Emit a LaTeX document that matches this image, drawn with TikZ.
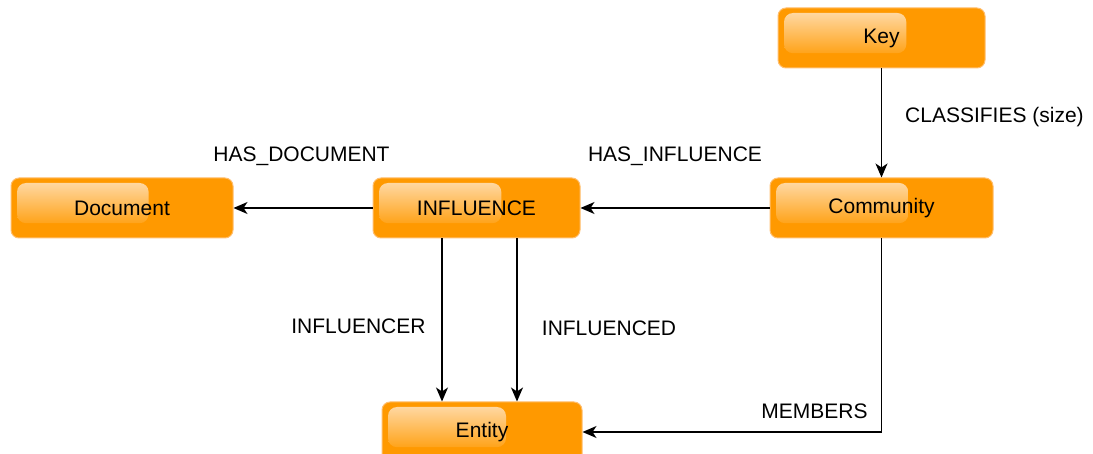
\documentclass[tikz,border=0pt]{standalone}
\usepackage{fontspec}
\setmainfont{Liberation Sans}
\usetikzlibrary{arrows.meta,calc}
\definecolor{boxorange}{RGB}{255,153,0}
\definecolor{boxedge}{RGB}{255,190,110}
\definecolor{glosstop}{RGB}{255,215,160}
\tikzset{
  entitybox/.style={
    rounded corners=8, fill=boxorange, draw=boxedge, line width=1,
    minimum height=60, inner sep=0, font=\fontsize{21}{25}\selectfont,
    path picture={
      \path (path picture bounding box.north west) coordinate (nw)
            (path picture bounding box.south east) coordinate (se);
      \shade[top color=glosstop, bottom color=boxorange!90!white, rounded corners=9]
        ($(nw)+(6,5)$) rectangle ($(nw)!0.62!(se)+(0,8)$);
    }},
  rel/.style={line width=1.3, -{Stealth[length=14,width=12,inset=4]}},
  lbl/.style={font=\fontsize{21}{25}\selectfont, inner sep=0}
}
\newcommand{\boxtext}[1]{\raisebox{-2pt}{#1}}
\begin{document}
\begin{tikzpicture}[x=1pt,y=-1pt]
  \useasboundingbox (0,0) rectangle (1093,454);
  \begin{scope}
    \clip (0,0) rectangle (1093,454);
    % entity boxes
    \node[entitybox, minimum width=207] (key)       at (881.5,38)  {\boxtext{Key}};
    \node[entitybox, minimum width=222] (document)  at (122,208)   {\boxtext{Document}};
    \node[entitybox, minimum width=207] (influence) at (476.5,208) {\boxtext{INFLUENCE}};
    \node[entitybox, minimum width=223] (community) at (881.5,208) {\boxtext{Community}};
    \node[entitybox, minimum width=200] (entity)    at (482,432)   {\boxtext{Entity}};
  \end{scope}
  % relationships
  \draw[rel] (key.south) -- (community.north);
  \draw[rel] (community.west) -- (influence.east);
  \draw[rel] (influence.west) -- (document.east);
  \draw[rel] (influence.south -| 442,0) -- (entity.north -| 442,0);
  \draw[rel] (influence.south -| 517,0) -- (entity.north -| 517,0);
  \draw[rel] (community.south) |- (entity.east);
  % relationship labels
  \node[lbl, anchor=west] (lclass) at (905,117) {CLASSIFIES (size)};
  \node[lbl] (lhasinf) at (675,156)   {HAS\_INFLUENCE};
  \node[lbl] (lhasdoc) at (301.5,156) {HAS\_DOCUMENT};
  \node[lbl] (linfr)   at (358.5,326) {INFLUENCER};
  \node[lbl] (linfd)   at (609,328)   {INFLUENCED};
  \node[lbl] (lmemb)   at (814.5,411) {MEMBERS};
\end{tikzpicture}
\end{document}
